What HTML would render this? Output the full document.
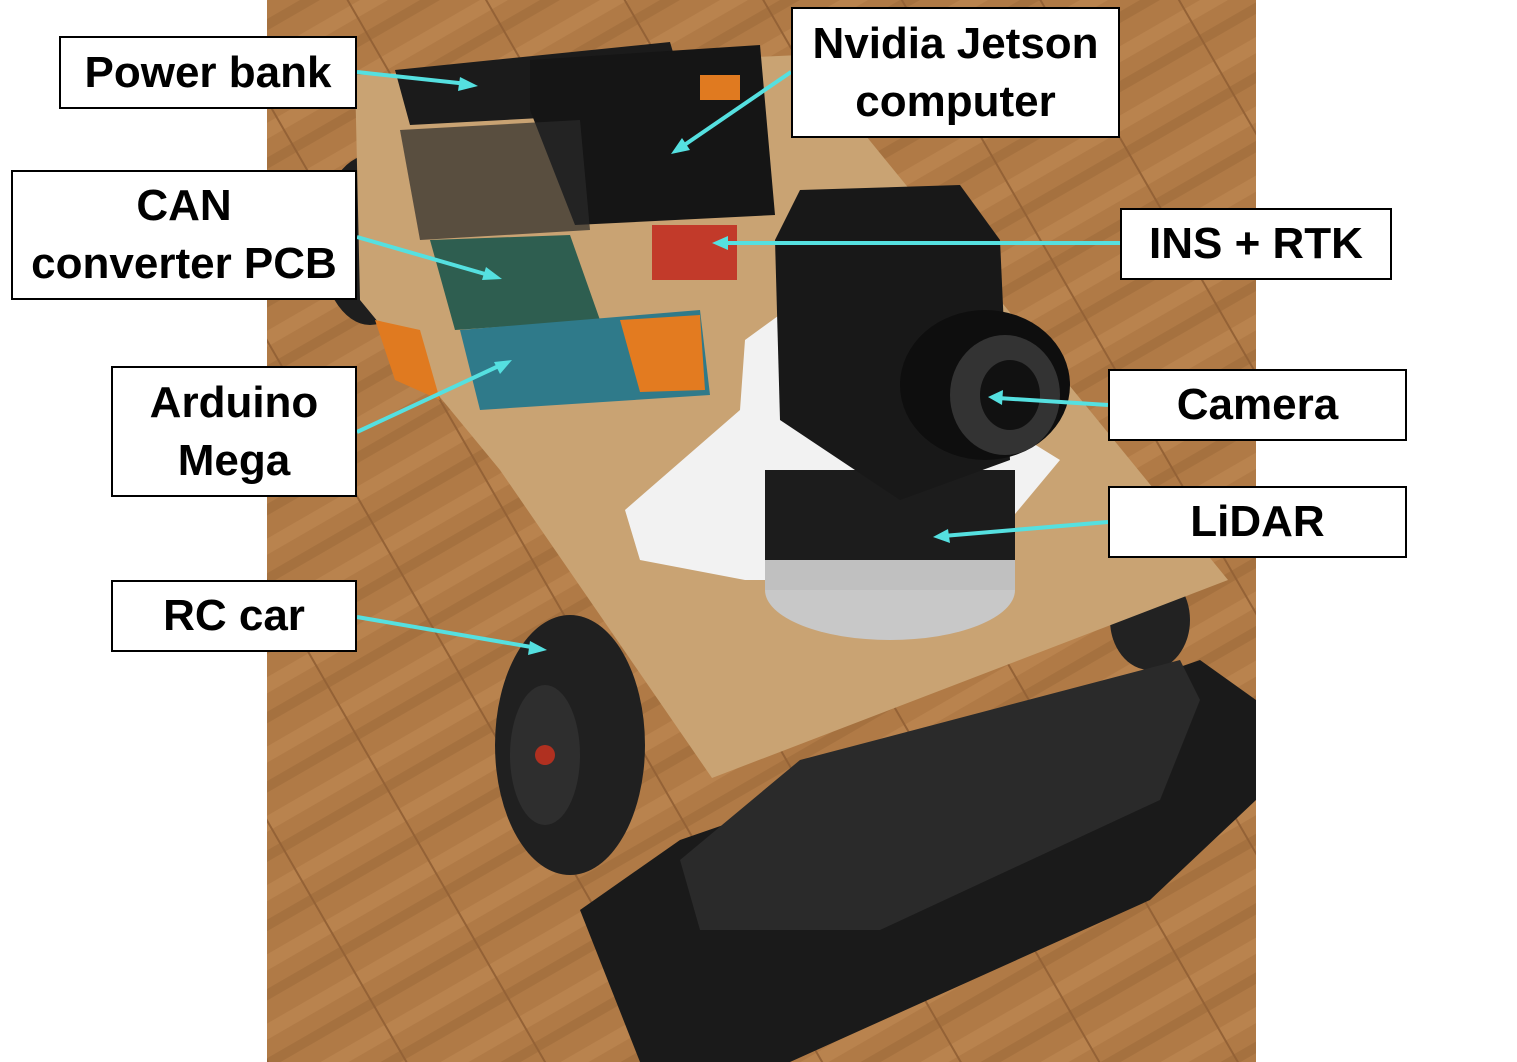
<!DOCTYPE html>
<html><head><meta charset="utf-8"><style>
html,body{margin:0;padding:0;background:#fff;}
body{width:1517px;height:1062px;position:relative;overflow:hidden;font-family:"Liberation Sans",sans-serif;}
.lb{position:absolute;background:#fff;border:2px solid #000;box-sizing:border-box;display:flex;align-items:center;justify-content:center;text-align:center;font-weight:bold;font-size:44px;line-height:58px;color:#000;}
svg{position:absolute;left:0;top:0;}
</style></head><body>
<svg width="1517" height="1062" viewBox="0 0 1517 1062">
<defs>
<pattern id="wood" width="120" height="60" patternUnits="userSpaceOnUse" patternTransform="rotate(-30)">
<rect width="120" height="60" fill="#b07a46"/>
<rect y="0" width="120" height="14" fill="#b9834e"/>
<rect y="30" width="120" height="10" fill="#a5713f"/>
<rect x="60" y="0" width="2" height="60" fill="#946236"/>
</pattern>
</defs>
<rect x="267" y="0" width="989" height="1062" fill="url(#wood)"/>
<ellipse cx="370" cy="240" rx="50" ry="85" fill="#1e1e1e"/>
<ellipse cx="1150" cy="620" rx="40" ry="50" fill="#222"/>
<polygon points="355,75 800,55 1228,580 712,778 500,470 360,300" fill="#c9a373"/>
<polygon points="580,910 680,840 1200,660 1256,700 1256,800 1150,900 790,1062 640,1062" fill="#1a1a1a"/>
<polygon points="680,860 800,760 1180,660 1200,700 1160,800 880,930 700,930" fill="#2a2a2a"/>
<ellipse cx="570" cy="745" rx="75" ry="130" fill="#202020"/>
<ellipse cx="545" cy="755" rx="35" ry="70" fill="#2e2e2e"/>
<circle cx="545" cy="755" r="10" fill="#b03020"/>
<polygon points="395,70 670,42 690,110 410,125" fill="#1b1b1b"/>
<polygon points="530,60 760,45 775,215 575,225 530,110" fill="#151515"/>
<rect x="700" y="75" width="40" height="25" fill="#e07a20"/>
<polygon points="400,130 580,120 590,230 420,240" fill="#2a2a2a" opacity="0.7"/>
<polygon points="430,240 570,235 600,320 455,330" fill="#2e5e50"/>
<polygon points="460,330 700,310 710,395 480,410" fill="#2f7a8a"/>
<polygon points="620,320 700,315 705,390 640,392" fill="#e37b20"/>
<polygon points="375,320 420,330 440,400 395,380" fill="#e07a20"/>
<rect x="652" y="225" width="85" height="55" fill="#c23a2a"/>
<polygon points="745,340 800,300 1060,460 1010,520 780,580 745,580 640,560 625,510 740,410" fill="#f2f2f2"/>
<ellipse cx="890" cy="590" rx="125" ry="50" fill="#c8c8c8"/>
<rect x="765" y="470" width="250" height="120" fill="#1c1c1c"/>
<rect x="765" y="560" width="250" height="30" fill="#c0c0c0"/>
<polygon points="775,240 800,190 960,185 1000,240 1010,460 900,500 780,420" fill="#181818"/>
<ellipse cx="985" cy="385" rx="85" ry="75" fill="#0e0e0e"/>
<ellipse cx="1005" cy="395" rx="55" ry="60" fill="#333"/>
<ellipse cx="1010" cy="395" rx="30" ry="35" fill="#111"/>
<g stroke="#55e0e0" stroke-width="4" fill="none">
<line x1="357" y1="72" x2="468" y2="84"/>
<line x1="791" y1="72" x2="680" y2="148"/>
<line x1="357" y1="237" x2="492" y2="276"/>
<line x1="357" y1="432" x2="503" y2="364"/>
<line x1="357" y1="617" x2="537" y2="648"/>
<line x1="1120" y1="243" x2="722" y2="243"/>
<line x1="1108" y1="405" x2="998" y2="398"/>
<line x1="1108" y1="522" x2="943" y2="536"/>
</g>
<g fill="#55e0e0">
<polygon points="478,86 460,77 458,91"/>
<polygon points="671,154 682,138 690,150"/>
<polygon points="502,279 486,267 482,280"/>
<polygon points="512,360 494,362 500,374"/>
<polygon points="547,650 530,641 528,655"/>
<polygon points="712,243 728,236 728,250"/>
<polygon points="988,397 1003,390 1002,405"/>
<polygon points="933,537 948,529 950,543"/>
</g>
</svg>
<div class="lb" style="left:59px;top:36px;width:298px;height:73px;">Power bank</div>
<div class="lb" style="left:791px;top:7px;width:329px;height:131px;">Nvidia Jetson<br>computer</div>
<div class="lb" style="left:11px;top:170px;width:346px;height:130px;">CAN<br>converter PCB</div>
<div class="lb" style="left:111px;top:366px;width:246px;height:131px;">Arduino<br>Mega</div>
<div class="lb" style="left:111px;top:580px;width:246px;height:72px;">RC car</div>
<div class="lb" style="left:1120px;top:208px;width:272px;height:72px;">INS + RTK</div>
<div class="lb" style="left:1108px;top:369px;width:299px;height:72px;">Camera</div>
<div class="lb" style="left:1108px;top:486px;width:299px;height:72px;">LiDAR</div>
</body></html>
